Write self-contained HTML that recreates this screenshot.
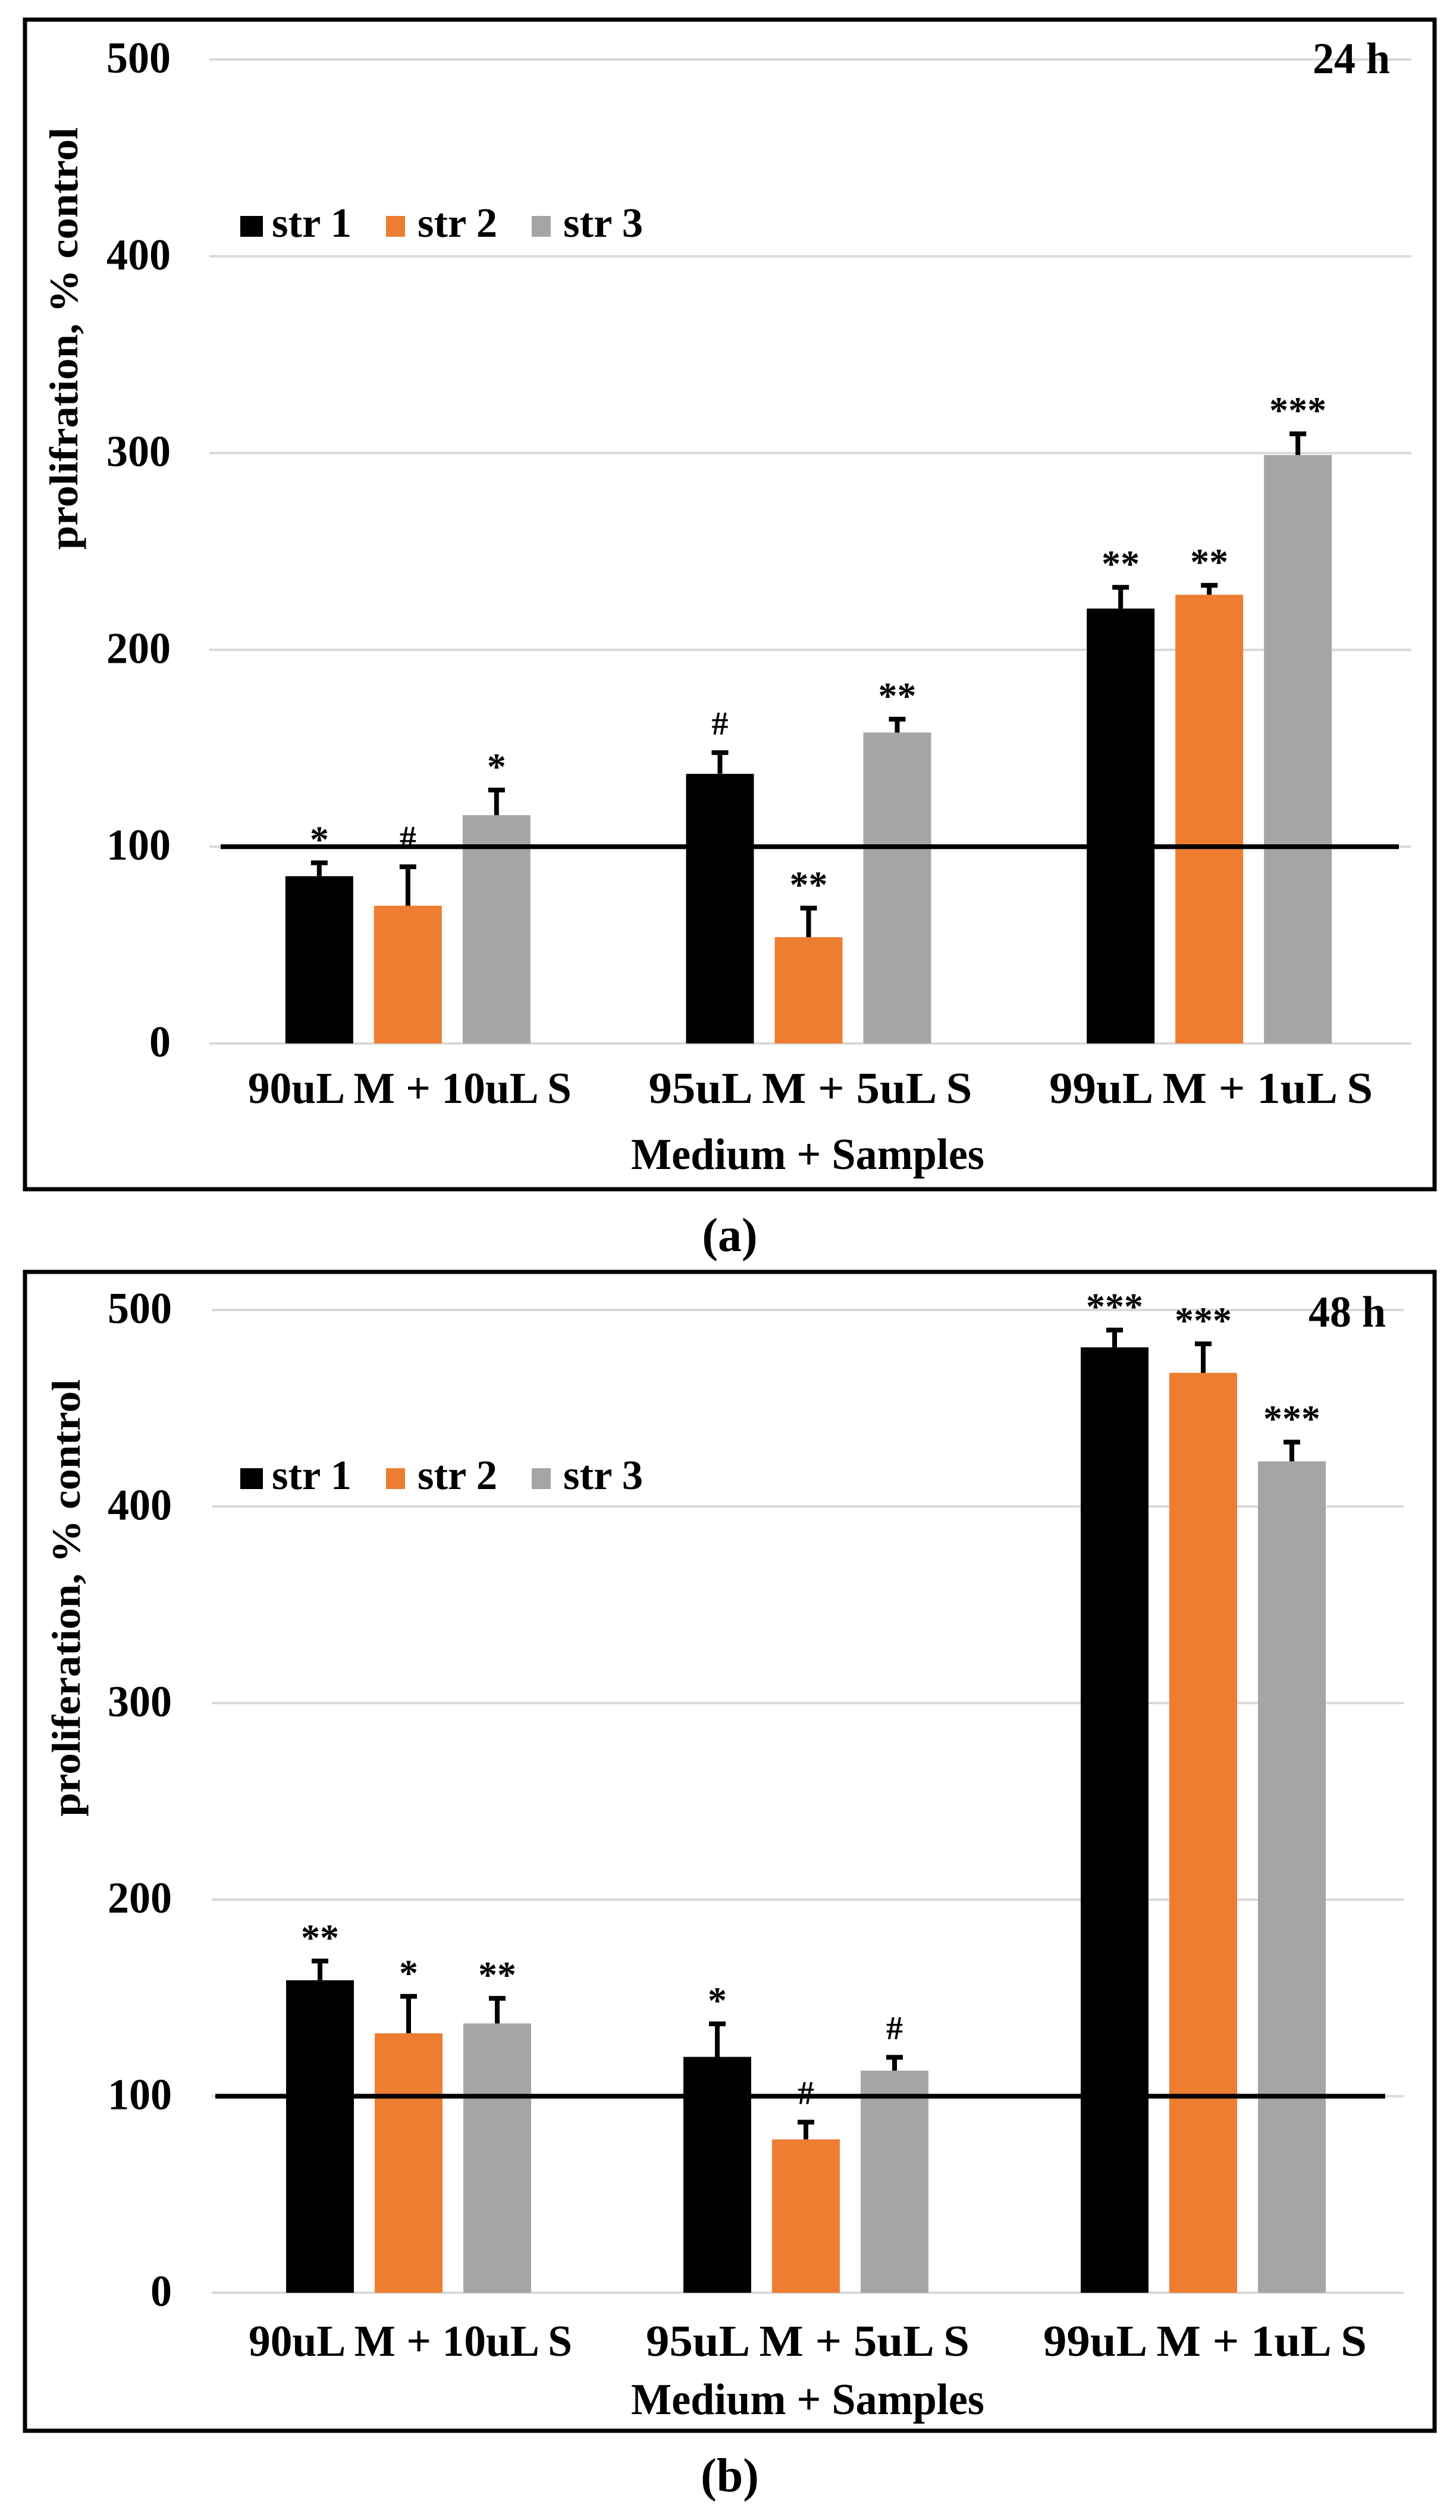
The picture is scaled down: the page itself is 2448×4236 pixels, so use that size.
<!DOCTYPE html>
<html><head><meta charset="utf-8"><style>
html,body{margin:0;padding:0;background:#fff;}
svg{display:block;}
svg text{font-family:"Liberation Serif","Times New Roman",serif !important;font-weight:bold;fill:#000;}
</style></head>
<body>
<svg id="fig" width="2448" height="4236" viewBox="0 0 2448 4236" xmlns="http://www.w3.org/2000/svg" font-family="Liberation Serif, serif"></svg>
<script>
const categories = ["90uL M + 10uL S", "95uL M + 5uL S", "99uL M + 1uL S"];
const seriesNames = ["str 1", "str 2", "str 3"];
const yTicks = [0, 100, 200, 300, 400, 500];
// Panel (a) 24 h
const a_str1 = [85, 137, 221];
const a_str2 = [70, 54, 228];
const a_str3 = [116, 158, 299];
const a_err1 = [8, 12, 12];
const a_err2 = [21, 16, 6];
const a_err3 = [14, 8, 12];
const a_sig1 = ["*", "#", "**"];
const a_sig2 = ["#", "**", "**"];
const a_sig3 = ["*", "**", "***"];
// Panel (b) 48 h
const b_str1 = [159, 120, 481];
const b_str2 = [132, 78, 468];
const b_str3 = [137, 113, 423];
const b_err1 = [11, 18, 10];
const b_err2 = [20, 10, 16];
const b_err3 = [14, 8, 11];
const b_sig1 = ["**", "*", "***"];
const b_sig2 = ["*", "#", "***"];
const b_sig3 = ["**", "#", "***"];
const referenceValue = 100;

const colors = ["#000000", "#ED7D31", "#A5A5A5"];
const NS = "http://www.w3.org/2000/svg";
const svg = document.getElementById("fig");
function mk(tag, attrs, parent, txt) {
  const e = document.createElementNS(NS, tag);
  for (const k in attrs) e.setAttribute(k, attrs[k]);
  if (tag === "text") { e.setAttribute("font-family", "Liberation Serif, serif"); if (!("font-weight" in attrs)) e.setAttribute("font-weight", "bold"); }
  if (txt !== undefined) e.textContent = txt;
  (parent || svg).appendChild(e);
  return e;
}

function panel(cfg, vals, errs, sigs) {
  const g = mk("g", {});
  
  
  const yScale = v => cfg.y0 - v * (cfg.y0 - cfg.y500) / 500;
  const step = (cfg.gx1 - cfg.gx0) / categories.length;
  const xScale = i => cfg.gx0 + step * (i + 0.5);
  const fr = mk("rect", {x: cfg.fx0, y: cfg.fy0, width: cfg.fx1 - cfg.fx0, height: cfg.fy1 - cfg.fy0, fill: "none", stroke: "#000", "stroke-width": 7}, g);
  
  
  yTicks.forEach(t => {
    const y = yScale(t);
    const l = mk("line", {x1: cfg.gx0, x2: cfg.gx1, y1: y, y2: y, stroke: "#d9d9d9", "stroke-width": 4}, g);
    
    
    const tx = mk("text", {x: cfg.tickX, y: y + 22, "text-anchor": "end", "font-size": 74, textLength: t === 0 ? 36 : 108, lengthAdjust: "spacingAndGlyphs"}, g, String(t));
    
    
  });
  const barW = 114, off = 149;
  vals.forEach((series, s) => {
    series.forEach((v, i) => {
      const cx = xScale(i) + (s - 1) * off - 3;
      const top = yScale(v);
      const r = mk("rect", {x: cx - barW / 2, y: top, width: barW, height: yScale(0) - top, fill: colors[s]}, g);
      
      
      const et = yScale(v + errs[s][i]);
      const eb = mk("path", {d: `M${cx} ${top} V${et} M${cx - 14} ${et + 4} H${cx + 14}`, stroke: "#000", "stroke-width": 8, fill: "none"}, g);
      
      
      const sg = sigs[s][i];
      const isHash = sg === "#";
      const sy = et - 48 + (isHash ? 22 : 34);
      const st = mk("text", {x: cx, y: sy, "text-anchor": "middle", "font-size": isHash ? 56 : 64}, g, sg);
      
      
    });
  });
  const ry = yScale(referenceValue);
  const rl = mk("line", {x1: cfg.rx0, x2: cfg.rx1, y1: ry, y2: ry, stroke: "#000", "stroke-width": 8}, g);
  
  
  categories.forEach((c, i) => {
    const t = mk("text", {x: xScale(i), y: cfg.catY, "text-anchor": "middle", "font-size": 74, textLength: 544, lengthAdjust: "spacingAndGlyphs"}, g, c);
    
    
  });
  const xt = mk("text", {x: 1358, y: cfg.xtY, "text-anchor": "middle", "font-size": 74, textLength: 594, lengthAdjust: "spacingAndGlyphs"}, g, "Medium + Samples");
  
  
  const yt = mk("text", {x: 0, y: 0, "text-anchor": "middle", "font-size": 68, textLength: cfg.ytLen, lengthAdjust: "spacingAndGlyphs", transform: `translate(${cfg.ytX},${cfg.ytY}) rotate(-90)`}, g, cfg.ytText);
  
  
  const tl = mk("text", {x: cfg.timeX, y: cfg.timeY, "text-anchor": "end", "font-size": 74, textLength: 130, lengthAdjust: "spacingAndGlyphs"}, g, cfg.time);
  
  
  const lx = [404, 649, 894];
  seriesNames.forEach((n, s) => {
    const sq = mk("rect", {x: lx[s], y: cfg.legY - 35, width: s === 0 ? 38 : 32, height: 35, fill: colors[s]}, g);
    
    
    const lt = mk("text", {x: lx[s] + 53, y: cfg.legY, "font-size": 70, textLength: 134, lengthAdjust: "spacingAndGlyphs"}, g, n);
    
    
  });
  const pl = mk("text", {x: 1227, y: cfg.plY, "text-anchor": "middle", "font-size": 80, "font-weight": "normal"}, g);
  
  
  mk("tspan", {}, pl, "(");
  const b = mk("tspan", {"font-weight": "bold"}, pl, cfg.letter);
  mk("tspan", {}, pl, ")");
}

panel({name: "panel-a-24h", fx0: 42, fy0: 33, fx1: 2412, fy1: 1999, y0: 1754, y500: 100, gx0: 352, gx1: 2373, tickX: 287,
  rx0: 371, rx1: 2352, catY: 1854, xtY: 1965, ytX: 130, ytY: 569, ytLen: 710, ytText: "prolifration, % control",
  timeX: 2337, timeY: 123, time: "24 h", legY: 398, plY: 2103, letter: "a"},
  [a_str1, a_str2, a_str3], [a_err1, a_err2, a_err3], [a_sig1, a_sig2, a_sig3]);

panel({name: "panel-b-48h", fx0: 42, fy0: 2138, fx1: 2412, fy1: 4086, y0: 3854, y500: 2202, gx0: 356, gx1: 2360, tickX: 289,
  rx0: 362, rx1: 2329, catY: 3960, xtY: 4058, ytX: 134, ytY: 2686, ytLen: 735, ytText: "proliferation, % control",
  timeX: 2330, timeY: 2230, time: "48 h", legY: 2503, plY: 4188, letter: "b"},
  [b_str1, b_str2, b_str3], [b_err1, b_err2, b_err3], [b_sig1, b_sig2, b_sig3]);
</script>
</body></html>
